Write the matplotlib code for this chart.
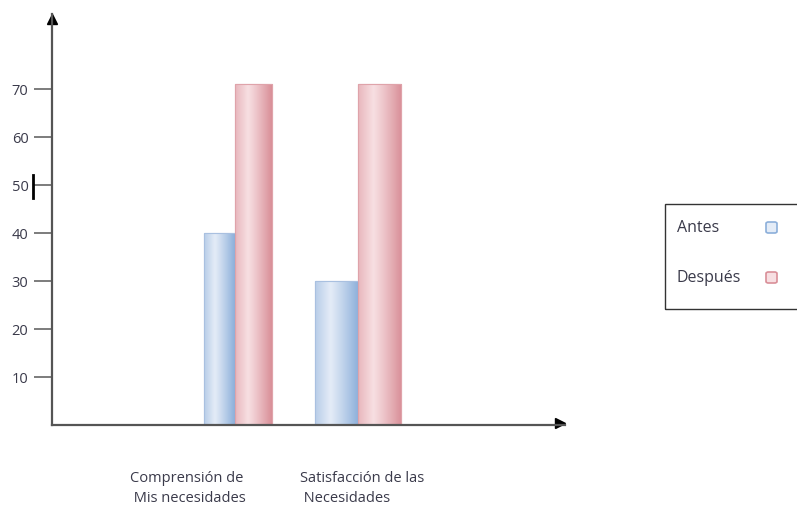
import numpy as np
import matplotlib
matplotlib.use('Agg')
import matplotlib.pyplot as plt
from matplotlib.lines import Line2D
from matplotlib.patches import Rectangle, FancyBboxPatch
from matplotlib.colors import to_rgb

plt.rcParams['font.family'] = ['Open Sans', 'DejaVu Sans']

# Donnees
categories = ['Comprensión de\n Mis necesidades', 'Satisfacción de las\n Necesidades']
series_names = ['Antes', 'Después']
antes = [40, 30]
despues = [71, 71]
yticks = [10, 20, 30, 40, 50, 60, 70]

# largeur des barres (le premier groupe est plus etroit dans l'original)
w_antes = [0.25, 0.35]
w_despues = [0.30, 0.35]

light = {'Antes': '#e4ecf7', 'Después': '#f7dfe2'}
dark = {'Antes': '#8cafda', 'Después': '#d98f98'}
edge = {'Antes': '#a9c0e0', 'Después': '#dfa3aa'}
txt_color = '#3a3a4a'

fig = plt.figure(figsize=(7.97, 5.10), dpi=100)
ax = fig.add_axes([52 / 797, 84 / 510, 513 / 797, 411 / 510])

x = np.arange(len(categories))


def gradient_img(c_light, c_dark):
    # degrade horizontal: bord gauche un peu fonce, centre clair, droite foncee
    t = np.linspace(0, 1, 64)
    f = np.clip((t - 0.35) / 0.65, 0, 1) ** 1.1
    left = t < 0.35
    f[left] = (0.35 - t[left]) / 0.35 * 0.5
    cl = np.array(to_rgb(c_light))
    cd = np.array(to_rgb(c_dark))
    img = cl[None, :] * (1 - f[:, None]) + cd[None, :] * f[:, None]
    return img[None, :, :]


def gradient_fill(ax, bar, name):
    x0, y0 = bar.get_x(), bar.get_y()
    x1, y1 = x0 + bar.get_width(), y0 + bar.get_height()
    im = ax.imshow(gradient_img(light[name], dark[name]), extent=[min(x0, x1), max(x0, x1), y0, y1],
                   aspect='auto', zorder=2, interpolation='bicubic')
    im.set_clip_path(bar)
    ax.add_patch(Rectangle((x0, y0), bar.get_width(), bar.get_height(),
                           fill=False, edgecolor=edge[name], linewidth=0.8, zorder=3))


for vals, widths, name, sign in [(antes, w_antes, 'Antes', -1), (despues, w_despues, 'Después', 1)]:
    bars = ax.bar(x, vals, width=[sign * wi for wi in widths], align='edge',
                  color=light[name], edgecolor=edge[name], linewidth=0.8, zorder=1)
    for b in bars:
        gradient_fill(ax, b, name)

ax.set_xlim(-1.488, 2.683)
ax.set_ylim(0, 85.6)

for s in ['top', 'right']:
    ax.spines[s].set_visible(False)
for s in ['left', 'bottom']:
    ax.spines[s].set_color('#555555')
    ax.spines[s].set_linewidth(1.6)
    ax.spines[s].set_zorder(4)

ax.set_xticks([])
ax.set_yticks(yticks)
ax.tick_params(axis='y', direction='out', length=13, width=1.2, color='#666666',
               labelsize=10.5, labelcolor=txt_color, pad=4)

# fleches
ax.plot(0, 0.988, '^', color='black', markersize=7, transform=ax.transAxes, clip_on=False)
ax.plot(0.99, 0.004, '>', color='black', markersize=7, transform=ax.transAxes, clip_on=False)

# marque (curseur) pres de 50
fig.add_artist(Line2D([33 / 797, 33 / 797], [1 - 176 / 510, 1 - 199 / 510],
                      color='black', linewidth=2))

# etiquettes des categories
label_pos = [130, 300]
for lab, px in zip(categories, label_pos):
    fig.text(px / 797, 1 - 471 / 510, lab, ha='left', va='top', fontsize=10.5,
             color=txt_color, linespacing=1.45)

# legende (dessinee a la main: texte a gauche, carre a droite)
fig.add_artist(Rectangle((665 / 797, 1 - 310 / 510), 140 / 797, 105 / 510,
                         transform=fig.transFigure, fill=False,
                         edgecolor='#333333', linewidth=1.0))
legend_y = [228, 278]
for name, py in zip(series_names, legend_y):
    fig.text(677 / 797, 1 - py / 510, name, ha='left', va='center', fontsize=11.5,
             color=txt_color)
    box = FancyBboxPatch((766 / 797, 1 - (py + 6) / 510), 11 / 797, 11 / 510,
                         boxstyle='round,pad=0,rounding_size=0.003',
                         transform=fig.transFigure, facecolor=light[name],
                         edgecolor=dark[name], linewidth=1.2)
    fig.add_artist(box)

fig.savefig('out.png', dpi=100)
